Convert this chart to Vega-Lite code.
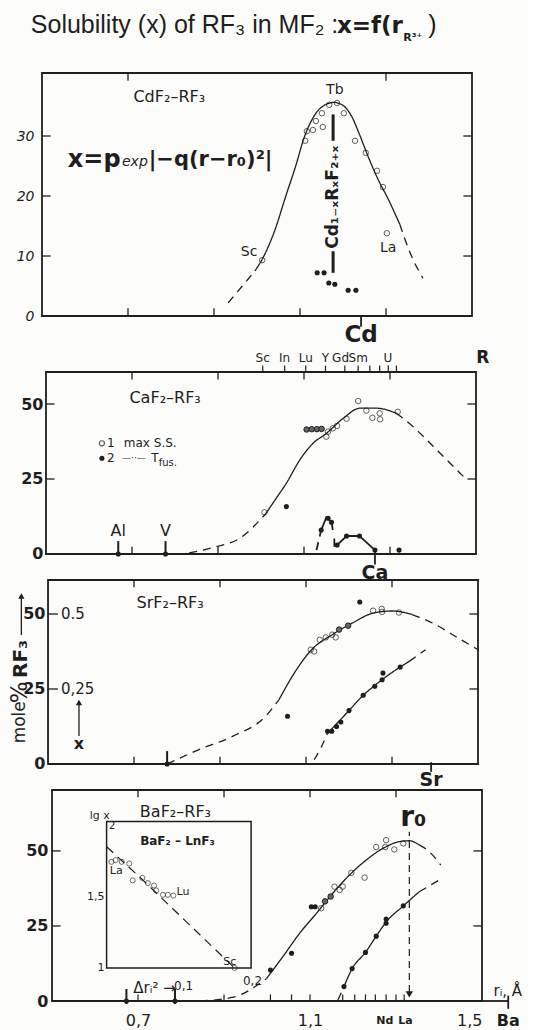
{
"$schema": "https://vega.github.io/schema/vega-lite/v6.json",
"background": "#fcfcfa",
"padding": {"left": 9, "top": 12, "right": 5, "bottom": 2},
"spacing": 0,
"bounds": "flush",
"config": {"view": {"stroke": null}, "font": "DejaVu Sans", "text": {"color": "#1e1e1e"}},
"datasets": {
"cd_curve": [
{"r":0.933,"mol":2.2,"seg":"a","kind":"extrapolated"},{"r":0.96,"mol":4.5,"seg":"a","kind":"extrapolated"},{"r":0.995,"mol":7.5,"seg":"a","kind":"extrapolated"},
{"r":0.995,"mol":7.5,"seg":"b","kind":"fit"},{"r":1.016,"mol":10,"seg":"b","kind":"fit"},{"r":1.04,"mol":14,"seg":"b","kind":"fit"},{"r":1.067,"mol":20,"seg":"b","kind":"fit"},{"r":1.09,"mol":25,"seg":"b","kind":"fit"},{"r":1.109,"mol":29.6,"seg":"b","kind":"fit"},{"r":1.13,"mol":33,"seg":"b","kind":"fit"},{"r":1.15,"mol":34.8,"seg":"b","kind":"fit"},{"r":1.179,"mol":35.6,"seg":"b","kind":"fit"},{"r":1.2,"mol":35.1,"seg":"b","kind":"fit"},{"r":1.22,"mol":33.3,"seg":"b","kind":"fit"},{"r":1.237,"mol":30.5,"seg":"b","kind":"fit"},{"r":1.26,"mol":26.3,"seg":"b","kind":"fit"},{"r":1.28,"mol":23,"seg":"b","kind":"fit"},{"r":1.305,"mol":19.5,"seg":"b","kind":"fit"},{"r":1.32,"mol":17.2,"seg":"b","kind":"fit"},{"r":1.332,"mol":15.3,"seg":"b","kind":"fit"},
{"r":1.332,"mol":15.3,"seg":"c","kind":"extrapolated"},{"r":1.358,"mol":10.2,"seg":"c","kind":"extrapolated"},{"r":1.386,"mol":6.3,"seg":"c","kind":"extrapolated"}],
"cd_open": [{"r":1.012,"mol":9.3},{"r":1.112,"mol":29.2},{"r":1.116,"mol":30.8},{"r":1.13,"mol":31.0},{"r":1.137,"mol":32.5},{"r":1.151,"mol":33.8},{"r":1.153,"mol":31.5},{"r":1.168,"mol":35.2},{"r":1.186,"mol":35.5},{"r":1.202,"mol":33.8},{"r":1.228,"mol":29.2},{"r":1.253,"mol":27.2},{"r":1.279,"mol":24.2},{"r":1.293,"mol":21.5},{"r":1.302,"mol":13.8}],
"cd_dots": [{"r":1.14,"mol":7.2},{"r":1.156,"mol":7.2},{"r":1.167,"mol":5.5},{"r":1.181,"mol":5.3},{"r":1.212,"mol":4.3},{"r":1.23,"mol":4.3}],
"ca_curve": [
{"r":0.833,"mol":0.4,"seg":"a","kind":"extrapolated"},{"r":0.895,"mol":2.4,"seg":"a","kind":"extrapolated"},{"r":0.95,"mol":5.2,"seg":"a","kind":"extrapolated"},{"r":1.012,"mol":13.6,"seg":"a","kind":"extrapolated"},
{"r":1.012,"mol":13.6,"seg":"b","kind":"fit"},{"r":1.035,"mol":18.5,"seg":"b","kind":"fit"},{"r":1.059,"mol":23.6,"seg":"b","kind":"fit"},{"r":1.09,"mol":31.3,"seg":"b","kind":"fit"},{"r":1.121,"mol":36.9,"seg":"b","kind":"fit"},{"r":1.152,"mol":40.2,"seg":"b","kind":"fit"},{"r":1.191,"mol":45.2,"seg":"b","kind":"fit"},{"r":1.23,"mol":48.6,"seg":"b","kind":"fit"},{"r":1.269,"mol":48.6,"seg":"b","kind":"fit"},{"r":1.315,"mol":46.9,"seg":"b","kind":"fit"},
{"r":1.315,"mol":46.9,"seg":"c","kind":"extrapolated"},{"r":1.354,"mol":42.4,"seg":"c","kind":"extrapolated"},{"r":1.401,"mol":35.8,"seg":"c","kind":"extrapolated"},{"r":1.475,"mol":25.2,"seg":"c","kind":"extrapolated"}],
"ca_tfus": [
{"r":1.129,"mol":1.3,"seg":"t1","kind":"extrapolated"},{"r":1.14,"mol":8.0,"seg":"t1","kind":"extrapolated"},
{"r":1.14,"mol":8.0,"seg":"t2","kind":"fit"},{"r":1.152,"mol":12.2,"seg":"t2","kind":"fit"},{"r":1.164,"mol":10.6,"seg":"t2","kind":"fit"},{"r":1.167,"mol":8.0,"seg":"t2","kind":"fit"},
{"r":1.1705,"mol":5.2,"seg":"t3","kind":"fit"},{"r":1.1706,"mol":2.4,"seg":"t3","kind":"fit"},
{"r":1.177,"mol":3.0,"seg":"t4","kind":"fit"},{"r":1.199,"mol":6.0,"seg":"t4","kind":"fit"},{"r":1.229,"mol":6.0,"seg":"t4","kind":"fit"},{"r":1.265,"mol":1.3,"seg":"t4","kind":"fit"}],
"ca_open": [{"r":1.008,"mol":13.9},{"r":1.152,"mol":39.1},{"r":1.156,"mol":40.8},{"r":1.167,"mol":41.9},{"r":1.177,"mol":42.7},{"r":1.199,"mol":45.1},{"r":1.226,"mol":51.0},{"r":1.245,"mol":47.8},{"r":1.259,"mol":45.4},{"r":1.276,"mol":46.9},{"r":1.277,"mol":44.9},{"r":1.318,"mol":47.4}],
"ca_hatched": [{"r":1.106,"mol":41.5},{"r":1.118,"mol":41.6},{"r":1.13,"mol":41.6},{"r":1.141,"mol":41.7}],
"ca_dots": [{"r":1.059,"mol":15.8},{"r":1.14,"mol":8.0},{"r":1.156,"mol":11.9},{"r":1.164,"mol":10.6},{"r":1.177,"mol":3.0},{"r":1.199,"mol":6.0},{"r":1.229,"mol":6.0},{"r":1.265,"mol":1.3},{"r":1.321,"mol":1.3},{"r":0.668,"mol":0},{"r":0.778,"mol":0}],
"sr_curve": [
{"r":0.777,"mol":0,"seg":"a","kind":"extrapolated"},{"r":0.851,"mol":4.8,"seg":"a","kind":"extrapolated"},{"r":0.929,"mol":9.2,"seg":"a","kind":"extrapolated"},{"r":1.006,"mol":15.9,"seg":"a","kind":"extrapolated"},{"r":1.037,"mol":21.4,"seg":"a","kind":"extrapolated"},
{"r":1.037,"mol":21.4,"seg":"b","kind":"fit"},{"r":1.068,"mol":29.2,"seg":"b","kind":"fit"},{"r":1.09,"mol":34,"seg":"b","kind":"fit"},{"r":1.111,"mol":37.8,"seg":"b","kind":"fit"},{"r":1.161,"mol":43.1,"seg":"b","kind":"fit"},{"r":1.208,"mol":47,"seg":"b","kind":"fit"},{"r":1.256,"mol":50.3,"seg":"b","kind":"fit"},{"r":1.301,"mol":51.0,"seg":"b","kind":"fit"},{"r":1.347,"mol":49.8,"seg":"b","kind":"fit"},
{"r":1.347,"mol":49.8,"seg":"c","kind":"extrapolated"},{"r":1.394,"mol":47,"seg":"c","kind":"extrapolated"},{"r":1.448,"mol":42.5,"seg":"c","kind":"extrapolated"},{"r":1.498,"mol":38.3,"seg":"c","kind":"extrapolated"},
{"r":1.119,"mol":1.4,"seg":"d","kind":"extrapolated"},{"r":1.135,"mol":5.5,"seg":"d","kind":"extrapolated"},{"r":1.15,"mol":10.2,"seg":"d","kind":"extrapolated"},
{"r":1.15,"mol":10.2,"seg":"e","kind":"fit"},{"r":1.2,"mol":17.8,"seg":"e","kind":"fit"},{"r":1.233,"mol":22.9,"seg":"e","kind":"fit"},{"r":1.26,"mol":26.2,"seg":"e","kind":"fit"},{"r":1.29,"mol":29.5,"seg":"e","kind":"fit"},{"r":1.319,"mol":32.3,"seg":"e","kind":"fit"},{"r":1.34,"mol":34.2,"seg":"e","kind":"fit"},
{"r":1.34,"mol":34.2,"seg":"f","kind":"extrapolated"},{"r":1.378,"mol":38.1,"seg":"f","kind":"extrapolated"}],
"sr_open": [{"r":1.111,"mol":38.1},{"r":1.119,"mol":37.5},{"r":1.132,"mol":41.4},{"r":1.146,"mol":42.2},{"r":1.161,"mol":43.1},{"r":1.169,"mol":42.2},{"r":1.256,"mol":51.1},{"r":1.276,"mol":51.7},{"r":1.277,"mol":50.7},{"r":1.316,"mol":50.5}],
"sr_hatched": [{"r":1.177,"mol":44.8},{"r":1.198,"mol":46.1}],
"sr_dots": [{"r":1.225,"mol":54.0},{"r":1.057,"mol":15.9},{"r":0.777,"mol":0},{"r":1.15,"mol":10.9},{"r":1.16,"mol":10.9},{"r":1.171,"mol":12.5},{"r":1.181,"mol":14.0},{"r":1.2,"mol":17.8},{"r":1.233,"mol":22.9},{"r":1.26,"mol":25.9},{"r":1.277,"mol":28.1},{"r":1.279,"mol":30.3},{"r":1.319,"mol":32.3}],
"ba_curve": [
{"r":0.844,"mol":0,"seg":"a","kind":"extrapolated"},{"r":0.922,"mol":1.3,"seg":"a","kind":"extrapolated"},{"r":0.999,"mol":7.5,"seg":"a","kind":"extrapolated"},
{"r":0.999,"mol":7.5,"seg":"b","kind":"fit"},{"r":1.037,"mol":14.8,"seg":"b","kind":"fit"},{"r":1.076,"mol":22.6,"seg":"b","kind":"fit"},{"r":1.115,"mol":29.2,"seg":"b","kind":"fit"},{"r":1.153,"mol":35.9,"seg":"b","kind":"fit"},{"r":1.192,"mol":42.0,"seg":"b","kind":"fit"},{"r":1.231,"mol":47.0,"seg":"b","kind":"fit"},{"r":1.269,"mol":50.8,"seg":"b","kind":"fit"},{"r":1.308,"mol":53.1,"seg":"b","kind":"fit"},{"r":1.331,"mol":53.4,"seg":"b","kind":"fit"},{"r":1.354,"mol":52.0,"seg":"b","kind":"fit"},
{"r":1.354,"mol":52.0,"seg":"c","kind":"extrapolated"},{"r":1.377,"mol":49.8,"seg":"c","kind":"extrapolated"},{"r":1.404,"mol":45.3,"seg":"c","kind":"extrapolated"},
{"r":1.165,"mol":0.3,"seg":"d","kind":"extrapolated"},{"r":1.179,"mol":4.8,"seg":"d","kind":"extrapolated"},
{"r":1.179,"mol":4.8,"seg":"e","kind":"fit"},{"r":1.198,"mol":10.8,"seg":"e","kind":"fit"},{"r":1.229,"mol":16.2,"seg":"e","kind":"fit"},{"r":1.254,"mol":21.6,"seg":"e","kind":"fit"},{"r":1.277,"mol":26.3,"seg":"e","kind":"fit"},{"r":1.317,"mol":31.7,"seg":"e","kind":"fit"},{"r":1.354,"mol":36.4,"seg":"e","kind":"fit"},
{"r":1.354,"mol":36.4,"seg":"f","kind":"extrapolated"},{"r":1.404,"mol":40.6,"seg":"f","kind":"extrapolated"}],
"ba_open": [{"r":1.126,"mol":30.9},{"r":1.157,"mol":38.1},{"r":1.169,"mol":37.0},{"r":1.176,"mol":38.1},{"r":1.196,"mol":42.7},{"r":1.227,"mol":41.1},{"r":1.254,"mol":51.3},{"r":1.275,"mol":51.3},{"r":1.277,"mol":53.6},{"r":1.296,"mol":50.5},{"r":1.317,"mol":52.5}],
"ba_hatched": [{"r":1.135,"mol":33.2},{"r":1.148,"mol":34.8}],
"ba_dots": [{"r":1.008,"mol":10.3},{"r":1.057,"mol":15.9},{"r":1.103,"mol":31.4},{"r":1.112,"mol":31.4},{"r":1.179,"mol":4.8},{"r":1.198,"mol":10.8},{"r":1.229,"mol":16.2},{"r":1.254,"mol":21.6},{"r":1.277,"mol":25.9},{"r":1.277,"mol":27.3},{"r":1.317,"mol":31.7},{"r":0.673,"mol":0},{"r":0.786,"mol":0}],
"inset_points": [{"dr2":-0.005,"lgx":1.75},{"dr2":0.001,"lgx":1.762},{"dr2":0.01,"lgx":1.75},{"dr2":0.021,"lgx":1.738},{"dr2":0.026,"lgx":1.619},{"dr2":0.04,"lgx":1.636},{"dr2":0.048,"lgx":1.6},{"dr2":0.057,"lgx":1.583},{"dr2":0.06,"lgx":1.548},{"dr2":0.07,"lgx":1.517},{"dr2":0.077,"lgx":1.517},{"dr2":0.085,"lgx":1.512},{"dr2":0.174,"lgx":1.0}],
"inset_line": [{"dr2":-0.012,"lgx":1.857},{"dr2":0.041,"lgx":1.62},{"dr2":0.174,"lgx":1.0}]
},
"vconcat": [
{
"width": 430, "height": 299,
"layer": [
{"data": {"name": "cd_curve"}, "mark": {"type": "line", "color": "#1e1e1e", "strokeWidth": 1.3, "interpolate": "monotone"},
 "encoding": {
  "x": {"field": "r", "type": "quantitative", "scale": {"domain": [0.5, 1.5], "nice": false, "zero": false}, "axis": null},
  "y": {"field": "mol", "type": "quantitative", "scale": {"domain": [-9.33, 40.5], "nice": false, "zero": false},
        "axis": {"values": [0, 10, 20, 30], "domain": false, "ticks": false, "grid": false, "labelPadding": 8, "labelFontSize": 14, "labelFontStyle": "italic", "labelColor": "#1e1e1e", "title": null}},
  "detail": {"field": "seg"},
  "strokeDash": {"field": "kind", "type": "nominal", "scale": {"domain": ["fit", "extrapolated"], "range": [[1, 0], [8, 6]]}, "legend": null}}},
{"data": {"values": [{}]}, "mark": {"type": "rect", "fillOpacity": 0, "stroke": "#1e1e1e", "strokeWidth": 1.8},
 "encoding": {"x": {"datum": 0.5, "axis": null}, "x2": {"datum": 1.5}, "y": {"datum": 0, "title": null}, "y2": {"datum": 40.5}}},
{"data": {"values": [{"mol": 10}, {"mol": 20}, {"mol": 30}]}, "mark": {"type": "rule", "color": "#1e1e1e", "strokeWidth": 1.3},
 "encoding": {"y": {"field": "mol", "type": "quantitative", "title": null}, "x": {"datum": 0.5, "axis": null}, "x2": {"datum": 0.52}}},
{"data": {"values": [{"mol": 10}, {"mol": 20}, {"mol": 30}]}, "mark": {"type": "rule", "color": "#1e1e1e", "strokeWidth": 1.3},
 "encoding": {"y": {"field": "mol", "type": "quantitative", "title": null}, "x": {"datum": 1.5, "axis": null}, "x2": {"datum": 1.48}}},
{"data": {"values": [{"r": 0.7}, {"r": 0.9}, {"r": 1.1}, {"r": 1.3}]}, "mark": {"type": "rule", "color": "#1e1e1e", "strokeWidth": 1.3},
 "encoding": {"x": {"field": "r", "type": "quantitative", "axis": null}, "y": {"datum": 0, "title": null}, "y2": {"datum": 1.3}}},
{"data": {"values": [{"r": 0.7}, {"r": 1.3}]}, "mark": {"type": "rule", "color": "#1e1e1e", "strokeWidth": 1.3},
 "encoding": {"x": {"field": "r", "type": "quantitative", "axis": null}, "y": {"datum": 40.5, "title": null}, "y2": {"datum": 39.2}}},
{"data": {"values": [{"r": 1.242}]}, "mark": {"type": "rule", "color": "#1e1e1e", "strokeWidth": 1.8},
 "encoding": {"x": {"field": "r", "type": "quantitative", "axis": null}, "y": {"datum": 0, "title": null}, "y2": {"datum": -1.8}}},
{"data": {"values": [{"r": 1.177, "lo": 29.2, "hi": 33.6}, {"r": 1.177, "lo": 7.2, "hi": 10.8}]}, "mark": {"type": "rule", "color": "#1e1e1e", "strokeWidth": 3},
 "encoding": {"x": {"field": "r", "type": "quantitative", "axis": null}, "y": {"field": "lo", "type": "quantitative", "title": null}, "y2": {"field": "hi"}}},
{"data": {"name": "cd_open"}, "mark": {"type": "point", "shape": "circle", "filled": false, "size": 30, "color": "#1e1e1e", "strokeWidth": 1},
 "encoding": {"x": {"field": "r", "type": "quantitative", "axis": null}, "y": {"field": "mol", "type": "quantitative", "title": null}}},
{"data": {"name": "cd_dots"}, "mark": {"type": "point", "shape": "circle", "filled": true, "size": 26, "color": "#1e1e1e", "opacity": 1},
 "encoding": {"x": {"field": "r", "type": "quantitative", "axis": null}, "y": {"field": "mol", "type": "quantitative", "title": null}}},
{"data": {"values": [{"t": "Tb", "r": 1.181, "mol": 37.7}, {"t": "La", "r": 1.305, "mol": 11.3}]}, "mark": {"type": "text", "fontSize": 14, "align": "center", "baseline": "middle"},
 "encoding": {"x": {"field": "r", "type": "quantitative", "axis": null}, "y": {"field": "mol", "type": "quantitative", "title": null}, "text": {"field": "t"}}},
{"data": {"values": [{"t": "Sc", "r": 1.001, "mol": 10.6}]}, "mark": {"type": "text", "fontSize": 14, "align": "right", "baseline": "middle"},
 "encoding": {"x": {"field": "r", "type": "quantitative", "axis": null}, "y": {"field": "mol", "type": "quantitative", "title": null}, "text": {"field": "t"}}},
{"data": {"values": [{"t": "CdF₂–RF₃", "r": 0.796, "mol": 36.5}]}, "mark": {"type": "text", "fontSize": 16, "align": "center", "baseline": "middle"},
 "encoding": {"x": {"field": "r", "type": "quantitative", "axis": null}, "y": {"field": "mol", "type": "quantitative", "title": null}, "text": {"field": "t"}}},
{"data": {"values": [{"t": "x=p", "r": 0.56, "mol": 26}]}, "mark": {"type": "text", "fontSize": 24, "fontWeight": "bold", "align": "left", "baseline": "middle"},
 "encoding": {"x": {"field": "r", "type": "quantitative", "axis": null}, "y": {"field": "mol", "type": "quantitative", "title": null}, "text": {"field": "t"}}},
{"data": {"values": [{"t": "exp", "r": 0.686, "mol": 25.6}]}, "mark": {"type": "text", "fontSize": 14, "fontStyle": "italic", "align": "left", "baseline": "middle"},
 "encoding": {"x": {"field": "r", "type": "quantitative", "axis": null}, "y": {"field": "mol", "type": "quantitative", "title": null}, "text": {"field": "t"}}},
{"data": {"values": [{"t": "|−q(r−r₀)²|", "r": 0.748, "mol": 26}]}, "mark": {"type": "text", "fontSize": 21, "fontWeight": "bold", "align": "left", "baseline": "middle"},
 "encoding": {"x": {"field": "r", "type": "quantitative", "axis": null}, "y": {"field": "mol", "type": "quantitative", "title": null}, "text": {"field": "t"}}},
{"data": {"values": [{"t": "Cd₁₋ₓRₓF₂₊ₓ", "r": 1.177, "mol": 19.8}]}, "mark": {"type": "text", "fontSize": 17, "fontWeight": "bold", "angle": 270, "align": "center", "baseline": "middle"},
 "encoding": {"x": {"field": "r", "type": "quantitative", "axis": null}, "y": {"field": "mol", "type": "quantitative", "title": null}, "text": {"field": "t"}}},
{"data": {"values": [{"t": "Cd", "r": 1.242, "mol": -3.2}]}, "mark": {"type": "text", "fontSize": 23, "fontWeight": "bold", "align": "center", "baseline": "middle"},
 "encoding": {"x": {"field": "r", "type": "quantitative", "axis": null}, "y": {"field": "mol", "type": "quantitative", "title": null}, "text": {"field": "t"}}},
{"data": {"values": [{"t": "Solubility (x) of RF₃ in MF₂ :", "r": 0.474, "mol": 47.2}]}, "mark": {"type": "text", "font": "Liberation Sans", "fontSize": 25, "align": "left", "baseline": "alphabetic"},
 "encoding": {"x": {"field": "r", "type": "quantitative", "axis": null}, "y": {"field": "mol", "type": "quantitative", "title": null}, "text": {"field": "t"}}},
{"data": {"values": [{"t": "x=f(r", "r": 1.186, "mol": 47.2}]}, "mark": {"type": "text", "fontSize": 23, "fontWeight": "bold", "align": "left", "baseline": "alphabetic"},
 "encoding": {"x": {"field": "r", "type": "quantitative", "axis": null}, "y": {"field": "mol", "type": "quantitative", "title": null}, "text": {"field": "t"}}},
{"data": {"values": [{"t": "R³⁺", "r": 1.34, "mol": 45.9}]}, "mark": {"type": "text", "fontSize": 11, "fontWeight": "bold", "align": "left", "baseline": "alphabetic"},
 "encoding": {"x": {"field": "r", "type": "quantitative", "axis": null}, "y": {"field": "mol", "type": "quantitative", "title": null}, "text": {"field": "t"}}},
{"data": {"values": [{"t": ")", "r": 1.398, "mol": 47.2}]}, "mark": {"type": "text", "font": "Liberation Sans", "fontSize": 25, "align": "left", "baseline": "alphabetic"},
 "encoding": {"x": {"field": "r", "type": "quantitative", "axis": null}, "y": {"field": "mol", "type": "quantitative", "title": null}, "text": {"field": "t"}}}
]
},
{
"width": 434, "height": 208,
"layer": [
{"data": {"name": "ca_curve"}, "mark": {"type": "line", "color": "#1e1e1e", "strokeWidth": 1.3, "interpolate": "monotone"},
 "encoding": {
  "x": {"field": "r", "type": "quantitative", "scale": {"domain": [0.4907, 1.5], "nice": false, "zero": false}, "axis": null},
  "y": {"field": "mol", "type": "quantitative", "scale": {"domain": [-8.67, 60.67], "nice": false, "zero": false},
        "axis": {"values": [0, 25, 50], "offset": -4, "domain": false, "ticks": false, "grid": false, "labelPadding": 3, "labelFontSize": 16, "labelFontWeight": "bold", "labelColor": "#1e1e1e", "title": null}},
  "detail": {"field": "seg"},
  "strokeDash": {"field": "kind", "type": "nominal", "scale": {"domain": ["fit", "extrapolated"], "range": [[1, 0], [12, 7]]}, "legend": null}}},
{"data": {"name": "ca_tfus"}, "mark": {"type": "line", "color": "#1e1e1e", "strokeWidth": 1.8},
 "encoding": {"x": {"field": "r", "type": "quantitative", "axis": null}, "y": {"field": "mol", "type": "quantitative", "title": null}, "detail": {"field": "seg"},
  "strokeDash": {"field": "kind", "type": "nominal", "scale": {"domain": ["fit", "extrapolated"], "range": [[1, 0], [6, 3]]}, "legend": null}}},
{"data": {"values": [{}]}, "mark": {"type": "rect", "fillOpacity": 0, "stroke": "#1e1e1e", "strokeWidth": 1.8},
 "encoding": {"x": {"datum": 0.5, "axis": null}, "x2": {"datum": 1.5}, "y": {"datum": 0, "title": null}, "y2": {"datum": 60.67}}},
{"data": {"values": [{"mol": 25}, {"mol": 50}]}, "mark": {"type": "rule", "color": "#1e1e1e", "strokeWidth": 1.3},
 "encoding": {"y": {"field": "mol", "type": "quantitative", "title": null}, "x": {"datum": 0.5, "axis": null}, "x2": {"datum": 0.52}}},
{"data": {"values": [{"mol": 25}, {"mol": 50}]}, "mark": {"type": "rule", "color": "#1e1e1e", "strokeWidth": 1.3},
 "encoding": {"y": {"field": "mol", "type": "quantitative", "title": null}, "x": {"datum": 1.5, "axis": null}, "x2": {"datum": 1.48}}},
{"data": {"values": [{"r": 0.7}, {"r": 0.9}, {"r": 1.1}, {"r": 1.3}]}, "mark": {"type": "rule", "color": "#1e1e1e", "strokeWidth": 1.3},
 "encoding": {"x": {"field": "r", "type": "quantitative", "axis": null}, "y": {"datum": 0, "title": null}, "y2": {"datum": 2.4}}},
{"data": {"values": [{"r": 0.7}, {"r": 0.9}, {"r": 1.1}, {"r": 1.3}]}, "mark": {"type": "rule", "color": "#1e1e1e", "strokeWidth": 1.3},
 "encoding": {"x": {"field": "r", "type": "quantitative", "axis": null}, "y": {"datum": 60.67, "title": null}, "y2": {"datum": 58.2}}},
{"data": {"values": [{"r": 1.004}, {"r": 1.055}, {"r": 1.104}, {"r": 1.15}, {"r": 1.195}, {"r": 1.226}, {"r": 1.253}, {"r": 1.276}, {"r": 1.296}, {"r": 1.315}]}, "mark": {"type": "rule", "color": "#1e1e1e", "strokeWidth": 1.2},
 "encoding": {"x": {"field": "r", "type": "quantitative", "axis": null}, "y": {"datum": 60.67, "title": null}, "y2": {"datum": 62.8}}},
{"data": {"values": [{"t": "Sc", "r": 1.004}, {"t": "In", "r": 1.055}, {"t": "Lu", "r": 1.104}, {"t": "Y", "r": 1.15}, {"t": "Gd", "r": 1.185}, {"t": "Sm", "r": 1.226}, {"t": "U", "r": 1.295}]}, "mark": {"type": "text", "fontSize": 12, "align": "center", "baseline": "middle"},
 "encoding": {"x": {"field": "r", "type": "quantitative", "axis": null}, "y": {"datum": 65.4, "title": null}, "text": {"field": "t"}}},
{"data": {"values": [{"t": "R", "r": 1.516}]}, "mark": {"type": "text", "fontSize": 17, "fontWeight": "bold", "align": "center", "baseline": "middle"},
 "encoding": {"x": {"field": "r", "type": "quantitative", "axis": null}, "y": {"datum": 65.4, "title": null}, "text": {"field": "t"}}},
{"data": {"values": [{"t": "CaF₂–RF₃", "r": 0.777, "mol": 52}]}, "mark": {"type": "text", "fontSize": 16, "align": "center", "baseline": "middle"},
 "encoding": {"x": {"field": "r", "type": "quantitative", "axis": null}, "y": {"field": "mol", "type": "quantitative", "title": null}, "text": {"field": "t"}}},
{"data": {"values": [{"t": "1", "r": 0.642, "mol": 36.9}, {"t": "max S.S.", "r": 0.681, "mol": 36.9}, {"t": "2", "r": 0.642, "mol": 31.9}, {"t": "T", "r": 0.745, "mol": 31.9}]}, "mark": {"type": "text", "fontSize": 12, "align": "left", "baseline": "middle"},
 "encoding": {"x": {"field": "r", "type": "quantitative", "axis": null}, "y": {"field": "mol", "type": "quantitative", "title": null}, "text": {"field": "t"}}},
{"data": {"values": [{"t": "—··—", "r": 0.677, "mol": 31.9}]}, "mark": {"type": "text", "fontSize": 9, "align": "left", "baseline": "middle"},
 "encoding": {"x": {"field": "r", "type": "quantitative", "axis": null}, "y": {"field": "mol", "type": "quantitative", "title": null}, "text": {"field": "t"}}},
{"data": {"values": [{"t": "fus.", "r": 0.762, "mol": 30.4}]}, "mark": {"type": "text", "fontSize": 10, "align": "left", "baseline": "middle"},
 "encoding": {"x": {"field": "r", "type": "quantitative", "axis": null}, "y": {"field": "mol", "type": "quantitative", "title": null}, "text": {"field": "t"}}},
{"data": {"values": [{"r": 0.63, "mol": 36.9}]}, "mark": {"type": "point", "shape": "circle", "filled": false, "size": 26, "color": "#1e1e1e", "strokeWidth": 1.2},
 "encoding": {"x": {"field": "r", "type": "quantitative", "axis": null}, "y": {"field": "mol", "type": "quantitative", "title": null}}},
{"data": {"values": [{"r": 0.63, "mol": 31.9}]}, "mark": {"type": "point", "shape": "circle", "filled": true, "size": 26, "color": "#1e1e1e", "opacity": 1},
 "encoding": {"x": {"field": "r", "type": "quantitative", "axis": null}, "y": {"field": "mol", "type": "quantitative", "title": null}}},
{"data": {"values": [{"r": 0.668}, {"r": 0.778}]}, "mark": {"type": "rule", "color": "#1e1e1e", "strokeWidth": 2},
 "encoding": {"x": {"field": "r", "type": "quantitative", "axis": null}, "y": {"datum": 0, "title": null}, "y2": {"datum": 4.3}}},
{"data": {"values": [{"t": "Al", "r": 0.668}, {"t": "V", "r": 0.778}]}, "mark": {"type": "text", "fontSize": 16, "align": "center", "baseline": "middle"},
 "encoding": {"x": {"field": "r", "type": "quantitative", "axis": null}, "y": {"datum": 7.6, "title": null}, "text": {"field": "t"}}},
{"data": {"values": [{"r": 1.265}]}, "mark": {"type": "rule", "color": "#1e1e1e", "strokeWidth": 1.8},
 "encoding": {"x": {"field": "r", "type": "quantitative", "axis": null}, "y": {"datum": 1.3, "title": null}, "y2": {"datum": -3.5}}},
{"data": {"values": [{"t": "Ca", "r": 1.265}]}, "mark": {"type": "text", "fontSize": 19, "fontWeight": "bold", "align": "center", "baseline": "middle"},
 "encoding": {"x": {"field": "r", "type": "quantitative", "axis": null}, "y": {"datum": -6.2, "title": null}, "text": {"field": "t"}}},
{"data": {"name": "ca_open"}, "mark": {"type": "point", "shape": "circle", "filled": false, "size": 30, "color": "#1e1e1e", "strokeWidth": 1},
 "encoding": {"x": {"field": "r", "type": "quantitative", "axis": null}, "y": {"field": "mol", "type": "quantitative", "title": null}}},
{"data": {"name": "ca_hatched"}, "mark": {"type": "point", "shape": "circle", "filled": true, "size": 30, "color": "#666666", "stroke": "#1e1e1e", "strokeWidth": 1, "opacity": 1},
 "encoding": {"x": {"field": "r", "type": "quantitative", "axis": null}, "y": {"field": "mol", "type": "quantitative", "title": null}}},
{"data": {"name": "ca_dots"}, "mark": {"type": "point", "shape": "circle", "filled": true, "size": 26, "color": "#1e1e1e", "opacity": 1},
 "encoding": {"x": {"field": "r", "type": "quantitative", "axis": null}, "y": {"field": "mol", "type": "quantitative", "title": null}}}
]
},
{
"width": 436, "height": 210,
"layer": [
{"data": {"name": "sr_curve"}, "mark": {"type": "line", "color": "#1e1e1e", "strokeWidth": 1.3, "interpolate": "monotone"},
 "encoding": {
  "x": {"field": "r", "type": "quantitative", "scale": {"domain": [0.486, 1.5], "nice": false, "zero": false}, "axis": null},
  "y": {"field": "mol", "type": "quantitative", "scale": {"domain": [-8.67, 61.33], "nice": false, "zero": false},
        "axis": {"values": [0, 25, 50], "offset": -6, "domain": false, "ticks": false, "grid": false, "labelPadding": 3, "labelFontSize": 16, "labelFontWeight": "bold", "labelColor": "#1e1e1e", "title": null}},
  "detail": {"field": "seg"},
  "strokeDash": {"field": "kind", "type": "nominal", "scale": {"domain": ["fit", "extrapolated"], "range": [[1, 0], [10, 6]]}, "legend": null}}},
{"data": {"values": [{}]}, "mark": {"type": "rect", "fillOpacity": 0, "stroke": "#1e1e1e", "strokeWidth": 1.8},
 "encoding": {"x": {"datum": 0.5, "axis": null}, "x2": {"datum": 1.5}, "y": {"datum": 0, "title": null}, "y2": {"datum": 61.33}}},
{"data": {"values": [{"mol": 25}, {"mol": 50}]}, "mark": {"type": "rule", "color": "#1e1e1e", "strokeWidth": 1.3},
 "encoding": {"y": {"field": "mol", "type": "quantitative", "title": null}, "x": {"datum": 0.5, "axis": null}, "x2": {"datum": 0.523}}},
{"data": {"values": [{"mol": 25}, {"mol": 50}]}, "mark": {"type": "rule", "color": "#1e1e1e", "strokeWidth": 1.3},
 "encoding": {"y": {"field": "mol", "type": "quantitative", "title": null}, "x": {"datum": 1.5, "axis": null}, "x2": {"datum": 1.48}}},
{"data": {"values": [{"r": 0.7}, {"r": 0.9}, {"r": 1.1}, {"r": 1.3}]}, "mark": {"type": "rule", "color": "#1e1e1e", "strokeWidth": 1.3},
 "encoding": {"x": {"field": "r", "type": "quantitative", "axis": null}, "y": {"datum": 0, "title": null}, "y2": {"datum": 2.4}}},
{"data": {"values": [{"r": 0.7}, {"r": 0.9}, {"r": 1.1}, {"r": 1.3}]}, "mark": {"type": "rule", "color": "#1e1e1e", "strokeWidth": 1.3},
 "encoding": {"x": {"field": "r", "type": "quantitative", "axis": null}, "y": {"datum": 61.33, "title": null}, "y2": {"datum": 58.9}}},
{"data": {"values": [{"t": "SrF₂–RF₃", "r": 0.784, "mol": 53.7}]}, "mark": {"type": "text", "fontSize": 16, "align": "center", "baseline": "middle"},
 "encoding": {"x": {"field": "r", "type": "quantitative", "axis": null}, "y": {"field": "mol", "type": "quantitative", "title": null}, "text": {"field": "t"}}},
{"data": {"values": [{"t": "0.5", "r": 0.53, "mol": 50}, {"t": "0,25", "r": 0.53, "mol": 25}]}, "mark": {"type": "text", "fontSize": 15, "align": "left", "baseline": "middle"},
 "encoding": {"x": {"field": "r", "type": "quantitative", "axis": null}, "y": {"field": "mol", "type": "quantitative", "title": null}, "text": {"field": "t"}}},
{"data": {"values": [{"t": "x", "r": 0.572, "mol": 6.8}]}, "mark": {"type": "text", "fontSize": 16, "fontWeight": "bold", "align": "center", "baseline": "middle"},
 "encoding": {"x": {"field": "r", "type": "quantitative", "axis": null}, "y": {"field": "mol", "type": "quantitative", "title": null}, "text": {"field": "t"}}},
{"data": {"values": [{"r": 0.572, "lo": 9.3, "hi": 20}, {"r": 0.438, "lo": 43, "hi": 55.5}]}, "mark": {"type": "rule", "color": "#1e1e1e", "strokeWidth": 1.3},
 "encoding": {"x": {"field": "r", "type": "quantitative", "axis": null}, "y": {"field": "lo", "type": "quantitative", "title": null}, "y2": {"field": "hi"}}},
{"data": {"values": [{"r": 0.572, "mol": 20.5}, {"r": 0.438, "mol": 56}]}, "mark": {"type": "point", "shape": "triangle-up", "filled": true, "size": 40, "color": "#1e1e1e", "opacity": 1},
 "encoding": {"x": {"field": "r", "type": "quantitative", "axis": null}, "y": {"field": "mol", "type": "quantitative", "title": null}}},
{"data": {"values": [{"t": "mole", "r": 0.435, "mol": 13.9}]}, "mark": {"type": "text", "fontSize": 17, "angle": 270, "align": "center", "baseline": "middle"},
 "encoding": {"x": {"field": "r", "type": "quantitative", "axis": null}, "y": {"field": "mol", "type": "quantitative", "title": null}, "text": {"field": "t"}}},
{"data": {"values": [{"t": "%", "r": 0.435, "mol": 23.9}]}, "mark": {"type": "text", "fontSize": 23, "angle": 270, "align": "center", "baseline": "middle"},
 "encoding": {"x": {"field": "r", "type": "quantitative", "axis": null}, "y": {"field": "mol", "type": "quantitative", "title": null}, "text": {"field": "t"}}},
{"data": {"values": [{"t": "RF₃", "r": 0.438, "mol": 35}]}, "mark": {"type": "text", "fontSize": 20, "fontWeight": "bold", "angle": 270, "align": "center", "baseline": "middle"},
 "encoding": {"x": {"field": "r", "type": "quantitative", "axis": null}, "y": {"field": "mol", "type": "quantitative", "title": null}, "text": {"field": "t"}}},
{"data": {"values": [{"r": 1.391}]}, "mark": {"type": "rule", "color": "#1e1e1e", "strokeWidth": 1.8},
 "encoding": {"x": {"field": "r", "type": "quantitative", "axis": null}, "y": {"datum": 0.6, "title": null}, "y2": {"datum": -2.6}}},
{"data": {"values": [{"t": "Sr", "r": 1.391}]}, "mark": {"type": "text", "fontSize": 19, "fontWeight": "bold", "align": "center", "baseline": "middle"},
 "encoding": {"x": {"field": "r", "type": "quantitative", "axis": null}, "y": {"datum": -5.4, "title": null}, "text": {"field": "t"}}},
{"data": {"values": [{"r": 0.777}]}, "mark": {"type": "rule", "color": "#1e1e1e", "strokeWidth": 2},
 "encoding": {"x": {"field": "r", "type": "quantitative", "axis": null}, "y": {"datum": 0, "title": null}, "y2": {"datum": 4.3}}},
{"data": {"name": "sr_open"}, "mark": {"type": "point", "shape": "circle", "filled": false, "size": 30, "color": "#1e1e1e", "strokeWidth": 1},
 "encoding": {"x": {"field": "r", "type": "quantitative", "axis": null}, "y": {"field": "mol", "type": "quantitative", "title": null}}},
{"data": {"name": "sr_hatched"}, "mark": {"type": "point", "shape": "circle", "filled": true, "size": 30, "color": "#666666", "stroke": "#1e1e1e", "strokeWidth": 1, "opacity": 1},
 "encoding": {"x": {"field": "r", "type": "quantitative", "axis": null}, "y": {"field": "mol", "type": "quantitative", "title": null}}},
{"data": {"name": "sr_dots"}, "mark": {"type": "point", "shape": "circle", "filled": true, "size": 26, "color": "#1e1e1e", "opacity": 1},
 "encoding": {"x": {"field": "r", "type": "quantitative", "axis": null}, "y": {"field": "mol", "type": "quantitative", "title": null}}}
]
},
{
"width": 440, "height": 211,
"resolve": {"scale": {"x": "independent", "y": "independent"}},
"layer": [
{"layer": [
{"data": {"name": "ba_curve"}, "mark": {"type": "line", "color": "#1e1e1e", "strokeWidth": 1.3, "interpolate": "monotone"},
 "encoding": {
  "x": {"field": "r", "type": "quantitative", "scale": {"domain": [0.4767, 1.5], "nice": false, "zero": false},
        "axis": {"values": [0.7, 1.1, 1.5], "labelExpr": "replace(format(datum.value, '.1f'), '.', ',')", "domain": false, "ticks": false, "grid": false, "labelPadding": 11, "labelFontSize": 16, "labelColor": "#1e1e1e", "title": null}},
  "y": {"field": "mol", "type": "quantitative", "scale": {"domain": [0, 70.3], "nice": false, "zero": false},
        "axis": {"values": [0, 25, 50], "offset": -10, "domain": false, "ticks": false, "grid": false, "labelPadding": 4, "labelFontSize": 16, "labelFontWeight": "bold", "labelColor": "#1e1e1e", "title": null}},
  "detail": {"field": "seg"},
  "strokeDash": {"field": "kind", "type": "nominal", "scale": {"domain": ["fit", "extrapolated"], "range": [[1, 0], [10, 6]]}, "legend": null}}},
{"data": {"values": [{}]}, "mark": {"type": "rect", "fillOpacity": 0, "stroke": "#1e1e1e", "strokeWidth": 1.8},
 "encoding": {"x": {"datum": 0.5, "title": null}, "x2": {"datum": 1.5}, "y": {"datum": 0, "title": null}, "y2": {"datum": 70.3}}},
{"data": {"values": [{}]}, "mark": {"type": "rule", "color": "#1e1e1e", "strokeWidth": 1.8},
 "encoding": {"x": {"datum": 1.5, "title": null}, "x2": {"datum": 1.561}, "y": {"datum": 0, "title": null}}},
{"data": {"values": [{"r": 1.561}]}, "mark": {"type": "rule", "color": "#1e1e1e", "strokeWidth": 1.8},
 "encoding": {"x": {"field": "r", "type": "quantitative", "title": null}, "y": {"datum": 1.8, "title": null}, "y2": {"datum": -2.6}}},
{"data": {"values": [{"mol": 25}, {"mol": 50}]}, "mark": {"type": "rule", "color": "#1e1e1e", "strokeWidth": 1.3},
 "encoding": {"y": {"field": "mol", "type": "quantitative", "title": null}, "x": {"datum": 0.5, "title": null}, "x2": {"datum": 0.52}}},
{"data": {"values": [{"mol": 25}, {"mol": 50}]}, "mark": {"type": "rule", "color": "#1e1e1e", "strokeWidth": 1.3},
 "encoding": {"y": {"field": "mol", "type": "quantitative", "title": null}, "x": {"datum": 1.5, "title": null}, "x2": {"datum": 1.48}}},
{"data": {"values": [{"r": 0.7}, {"r": 0.9}, {"r": 1.1}, {"r": 1.3}]}, "mark": {"type": "rule", "color": "#1e1e1e", "strokeWidth": 1.3},
 "encoding": {"x": {"field": "r", "type": "quantitative", "title": null}, "y": {"datum": 70.3, "title": null}, "y2": {"datum": 67.9}}},
{"data": {"values": [{"r": 0.7}, {"r": 0.9}, {"r": 1.008}, {"r": 1.057}, {"r": 1.1}, {"r": 1.176}, {"r": 1.204}, {"r": 1.229}, {"r": 1.252}, {"r": 1.277}, {"r": 1.3}, {"r": 1.319}]}, "mark": {"type": "rule", "color": "#1e1e1e", "strokeWidth": 1.2},
 "encoding": {"x": {"field": "r", "type": "quantitative", "title": null}, "y": {"datum": 0, "title": null}, "y2": {"datum": 2.2}}},
{"data": {"values": [{"r": 0.673}, {"r": 0.786}]}, "mark": {"type": "rule", "color": "#1e1e1e", "strokeWidth": 2},
 "encoding": {"x": {"field": "r", "type": "quantitative", "title": null}, "y": {"datum": -1, "title": null}, "y2": {"datum": 4}}},
{"data": {"values": [{"r": 1.331}]}, "mark": {"type": "rule", "color": "#1e1e1e", "strokeWidth": 1.2, "strokeDash": [7, 5]},
 "encoding": {"x": {"field": "r", "type": "quantitative", "title": null}, "y": {"datum": 3, "title": null}, "y2": {"datum": 56.4}}},
{"data": {"values": [{"r": 1.331, "mol": 2.2}]}, "mark": {"type": "point", "shape": "triangle-down", "filled": true, "size": 55, "color": "#1e1e1e", "opacity": 1},
 "encoding": {"x": {"field": "r", "type": "quantitative", "title": null}, "y": {"field": "mol", "type": "quantitative", "title": null}}},
{"data": {"values": [{"t": "BaF₂–RF₃", "r": 0.787, "mol": 63}]}, "mark": {"type": "text", "fontSize": 16, "align": "center", "baseline": "middle"},
 "encoding": {"x": {"field": "r", "type": "quantitative", "title": null}, "y": {"field": "mol", "type": "quantitative", "title": null}, "text": {"field": "t"}}},
{"data": {"values": [{"t": "r₀", "r": 1.34, "mol": 61}]}, "mark": {"type": "text", "fontSize": 28, "fontWeight": "bold", "align": "center", "baseline": "middle"},
 "encoding": {"x": {"field": "r", "type": "quantitative", "title": null}, "y": {"field": "mol", "type": "quantitative", "title": null}, "text": {"field": "t"}}},
{"data": {"values": [{"t": "Nd", "r": 1.274, "mol": -6.6}, {"t": "La", "r": 1.322, "mol": -6.6}]}, "mark": {"type": "text", "fontSize": 11, "fontWeight": "bold", "align": "center", "baseline": "middle"},
 "encoding": {"x": {"field": "r", "type": "quantitative", "title": null}, "y": {"field": "mol", "type": "quantitative", "title": null}, "text": {"field": "t"}}},
{"data": {"values": [{"t": "Ba", "r": 1.561, "mol": -6.5}]}, "mark": {"type": "text", "fontSize": 16, "fontWeight": "bold", "align": "center", "baseline": "middle"},
 "encoding": {"x": {"field": "r", "type": "quantitative", "title": null}, "y": {"field": "mol", "type": "quantitative", "title": null}, "text": {"field": "t"}}},
{"data": {"values": [{"t": "rᵢ, Å", "r": 1.56, "mol": 3.2}]}, "mark": {"type": "text", "fontSize": 15, "align": "center", "baseline": "middle"},
 "encoding": {"x": {"field": "r", "type": "quantitative", "title": null}, "y": {"field": "mol", "type": "quantitative", "title": null}, "text": {"field": "t"}}},
{"data": {"values": [{"t": "Δrᵢ² →", "r": 0.689, "mol": 4.3}]}, "mark": {"type": "text", "fontSize": 15, "align": "left", "baseline": "middle"},
 "encoding": {"x": {"field": "r", "type": "quantitative", "title": null}, "y": {"field": "mol", "type": "quantitative", "title": null}, "text": {"field": "t"}}},
{"data": {"name": "ba_open"}, "mark": {"type": "point", "shape": "circle", "filled": false, "size": 30, "color": "#1e1e1e", "strokeWidth": 1},
 "encoding": {"x": {"field": "r", "type": "quantitative", "title": null}, "y": {"field": "mol", "type": "quantitative", "title": null}}},
{"data": {"name": "ba_hatched"}, "mark": {"type": "point", "shape": "circle", "filled": true, "size": 30, "color": "#666666", "stroke": "#1e1e1e", "strokeWidth": 1, "opacity": 1},
 "encoding": {"x": {"field": "r", "type": "quantitative", "title": null}, "y": {"field": "mol", "type": "quantitative", "title": null}}},
{"data": {"name": "ba_dots"}, "mark": {"type": "point", "shape": "circle", "filled": true, "size": 26, "color": "#1e1e1e", "opacity": 1},
 "encoding": {"x": {"field": "r", "type": "quantitative", "title": null}, "y": {"field": "mol", "type": "quantitative", "title": null}}}
]},
{"layer": [
{"data": {"values": [{}]}, "mark": {"type": "rect", "fill": "#fcfcfa", "stroke": "#1e1e1e", "strokeWidth": 1.5},
 "encoding": {"x": {"datum": -0.012, "type": "quantitative", "scale": {"domain": [-0.012, 0.198], "range": [64.6, 209.1], "nice": false, "zero": false}, "axis": null}, "x2": {"datum": 0.198},
  "y": {"datum": 1, "type": "quantitative", "scale": {"domain": [1, 2.035], "range": [178, 31.5], "nice": false, "zero": false}, "axis": null}, "y2": {"datum": 2.035}}},
{"data": {"name": "inset_line"}, "mark": {"type": "line", "color": "#1e1e1e", "strokeWidth": 1.2, "strokeDash": [9, 6]},
 "encoding": {"x": {"field": "dr2", "type": "quantitative", "axis": null}, "y": {"field": "lgx", "type": "quantitative", "axis": null}}},
{"data": {"name": "inset_points"}, "mark": {"type": "point", "shape": "circle", "filled": false, "size": 26, "color": "#1e1e1e", "strokeWidth": 0.9},
 "encoding": {"x": {"field": "dr2", "type": "quantitative", "axis": null}, "y": {"field": "lgx", "type": "quantitative", "axis": null}}},
{"data": {"values": [{"t": "La", "dr2": 0.002, "lgx": 1.686}, {"t": "Lu", "dr2": 0.099, "lgx": 1.536}, {"t": "Sc", "dr2": 0.167, "lgx": 1.04}]}, "mark": {"type": "text", "fontSize": 11, "align": "center", "baseline": "middle"},
 "encoding": {"x": {"field": "dr2", "type": "quantitative", "axis": null}, "y": {"field": "lgx", "type": "quantitative", "axis": null}, "text": {"field": "t"}}},
{"data": {"values": [{"t": "BaF₂ – LnF₃", "dr2": 0.091, "lgx": 1.9}]}, "mark": {"type": "text", "fontSize": 12, "fontWeight": "bold", "align": "center", "baseline": "middle"},
 "encoding": {"x": {"field": "dr2", "type": "quantitative", "axis": null}, "y": {"field": "lgx", "type": "quantitative", "axis": null}, "text": {"field": "t"}}},
{"data": {"values": [{"t": "lg x", "dr2": -0.022, "lgx": 2.075}]}, "mark": {"type": "text", "fontSize": 11, "align": "center", "baseline": "middle"},
 "encoding": {"x": {"field": "dr2", "type": "quantitative", "axis": null}, "y": {"field": "lgx", "type": "quantitative", "axis": null}, "text": {"field": "t"}}},
{"data": {"values": [{"t": "2", "dr2": -0.004, "lgx": 2.0}]}, "mark": {"type": "text", "fontSize": 10, "align": "center", "baseline": "middle"},
 "encoding": {"x": {"field": "dr2", "type": "quantitative", "axis": null}, "y": {"field": "lgx", "type": "quantitative", "axis": null}, "text": {"field": "t"}}},
{"data": {"values": [{"t": "1,5", "dr2": -0.015, "lgx": 1.5}, {"t": "1", "dr2": -0.015, "lgx": 1.0}]}, "mark": {"type": "text", "fontSize": 11, "align": "right", "baseline": "middle"},
 "encoding": {"x": {"field": "dr2", "type": "quantitative", "axis": null}, "y": {"field": "lgx", "type": "quantitative", "axis": null}, "text": {"field": "t"}}},
{"data": {"values": [{"t": "0,1", "dr2": 0.1, "lgx": 0.87}, {"t": "0,2", "dr2": 0.2, "lgx": 0.905}]}, "mark": {"type": "text", "fontSize": 12, "align": "center", "baseline": "middle"},
 "encoding": {"x": {"field": "dr2", "type": "quantitative", "axis": null}, "y": {"field": "lgx", "type": "quantitative", "axis": null}, "text": {"field": "t"}}}
]}
]
}
]
}
